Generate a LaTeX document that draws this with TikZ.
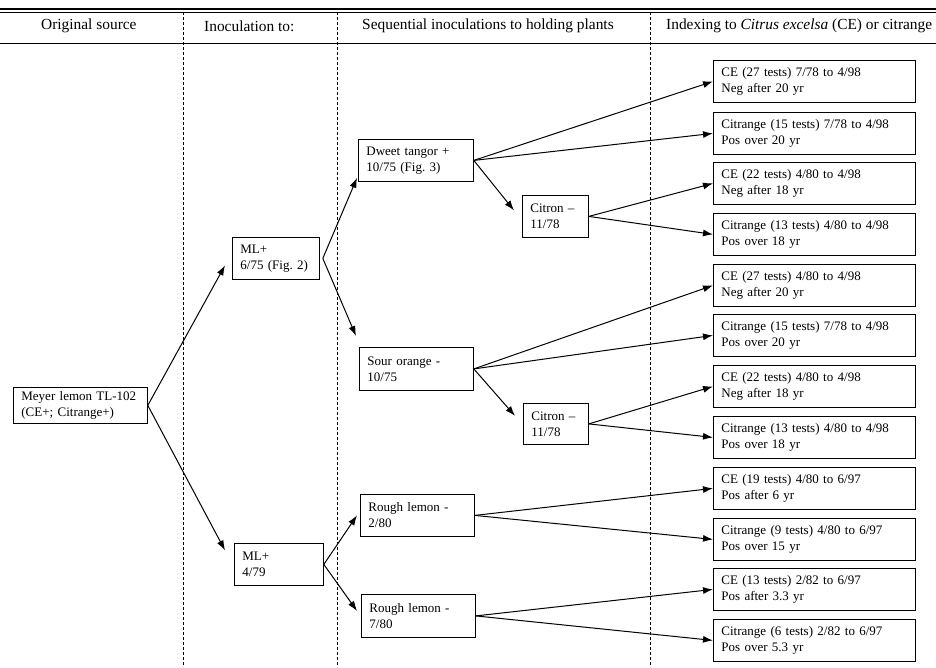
\documentclass[tikz,border=0pt]{standalone}
\usepackage{fontspec}
\setmainfont{Liberation Serif}
\usepackage{tikz}
\usetikzlibrary{arrows.meta}
\usetikzlibrary{positioning}
\usetikzlibrary{calc}
\tikzstyle{box} = [rectangle, draw, line width=0.8pt, align=left, inner xsep=8pt, inner ysep=0pt, anchor=north west, minimum height=42pt, font=\fontsize{13}{16}\selectfont\frenchspacing]
\tikzstyle{test} = [box, text width=186pt]
\tikzstyle{link} = [line width=1pt, -{Latex[length=10pt,width=7pt]}]
\tikzstyle{head} = [anchor=west, inner sep=0pt, font=\fontsize{15.4}{18}\selectfont]
\tikzstyle{divider} = [line width=0.8pt, dash pattern=on 3pt off 2pt]

\begin{document}
\begin{tikzpicture}[x=1pt, y=-1pt]
	\useasboundingbox (0,0) rectangle (936,667);
	
	% header
	\draw[line width=2pt] (0,9) -- (936,9);
	\draw[line width=0.8pt] (0,12.5) -- (936,12.5);
	\draw[line width=0.8pt] (0,43) -- (936,43);
	\node[head]at(41,26)(Head-1){Original source};
	\node[head]at(204,26)(Head-2){Inoculation to:};
	\node[head]at(362,26)(Head-3){Sequential inoculations to holding plants};
	\node[head]at(666,26)(Head-4){Indexing to \textit{Citrus excelsa} (CE) or citrange};
	\draw[divider] (183,12) -- (183,667);
	\draw[divider] (337,12) -- (337,667);
	\draw[divider] (650,12) -- (650,667);
	
	\node[box, text width=118pt, minimum height=36pt]at(13,387)(Meyer){Meyer lemon TL-102\\(CE+; Citrange+)};
	
	\node[box, text width=71pt]at(232,237)(ML-1){ML+\\6/75 (Fig.~2)};
	\node[box, text width=73pt]at(234,543)(ML-2){ML+\\4/79};
	
	\node[box, text width=99pt]at(358,139)(Dweet){Dweet tangor +\\10/75 (Fig.~3)};
	\node[box, text width=98pt, minimum height=43pt]at(359,347)(Sour){Sour orange -\\10/75};
	\node[box, text width=98pt]at(360,494)(Rough-1){Rough lemon -\\2/80};
	\node[box, text width=98pt, minimum height=43pt]at(361,594)(Rough-2){Rough lemon -\\7/80};
	
	\node[box, text width=50pt]at(522,195)(Citron-1){Citron --\\11/78};
	\node[box, text width=49pt, minimum height=41pt]at(523,403)(Citron-2){Citron --\\11/78};
	
	\node[test]at(713,60)(Test-1){CE (27 tests) 7/78 to 4/98\\Neg after 20 yr};
	\node[test]at(713,112)(Test-2){Citrange (15 tests) 7/78 to 4/98\\Pos over 20 yr};
	\node[test]at(713,162)(Test-3){CE (22 tests) 4/80 to 4/98\\Neg after 18 yr};
	\node[test]at(713,213)(Test-4){Citrange (13 tests) 4/80 to 4/98\\Pos over 18 yr};
	\node[test]at(713,264)(Test-5){CE (27 tests) 4/80 to 4/98\\Neg after 20 yr};
	\node[test]at(713,314)(Test-6){Citrange (15 tests) 7/78 to 4/98\\Pos over 20 yr};
	\node[test]at(713,365)(Test-7){CE (22 tests) 4/80 to 4/98\\Neg after 18 yr};
	\node[test]at(713,416)(Test-8){Citrange (13 tests) 4/80 to 4/98\\Pos over 18 yr};
	\node[test]at(713,467)(Test-9){CE (19 tests) 4/80 to 6/97\\Pos after 6 yr};
	\node[test]at(713,518)(Test-10){Citrange (9 tests) 4/80 to 6/97\\Pos over 15 yr};
	\node[test]at(713,568)(Test-11){CE (13 tests) 2/82 to 6/97\\Pos after 3.3 yr};
	\node[test]at(713,619)(Test-12){Citrange (6 tests) 2/82 to 6/97\\Pos over 5.3 yr};
	
	\draw[link] (Meyer.east) -- ([xshift=-7pt, yshift=-7pt]ML-1.west);
	\draw[link] (Meyer.east) -- ([xshift=-9pt, yshift=14pt]ML-2.west);
	
	\draw[link] ([xshift=3pt]ML-1.east) -- ([xshift=-1pt, yshift=4pt]Dweet.south west);
	\draw[link] ([xshift=3pt]ML-1.east) -- ([xshift=-3pt, yshift=11pt]Sour.north west);
	\draw[link] (ML-2.east) -- ([xshift=-3pt]Rough-1.west);
	\draw[link] (ML-2.east) -- ([xshift=-4pt, yshift=5pt]Rough-2.west);
	
	\draw[link] (Dweet.east) -- ([xshift=-8pt, yshift=6pt]Citron-1.west);
	\draw[link] (Sour.east) -- ([xshift=-8pt, yshift=8pt]Citron-2.west);
	
	\draw[link] (Dweet.east) -- (Test-1.west);
	\draw[link] (Dweet.east) -- (Test-2.west);
	\draw[link] (Citron-1.east) -- (Test-3.west);
	\draw[link] (Citron-1.east) -- (Test-4.west);
	\draw[link] (Sour.east) -- (Test-5.west);
	\draw[link] (Sour.east) -- (Test-6.west);
	\draw[link] (Citron-2.east) -- (Test-7.west);
	\draw[link] (Citron-2.east) -- (Test-8.west);
	\draw[link] (Rough-1.east) -- (Test-9.west);
	\draw[link] (Rough-1.east) -- (Test-10.west);
	\draw[link] (Rough-2.east) -- (Test-11.west);
	\draw[link] (Rough-2.east) -- (Test-12.west);

\end{tikzpicture}
\end{document}
